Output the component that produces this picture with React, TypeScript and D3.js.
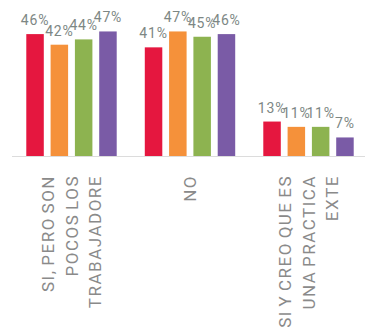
import React from "react";
import * as d3 from "d3";

const categoryLines: string[][] = [
  ["SI, PERO SON", "POCOS LOS", "TRABAJADORE"],
  ["NO"],
  ["SI Y CREO QUE ES", "UNA PRACTICA", "EXTE"],
];
const categoryKeys = ["c1", "c2", "c3"];
const seriesNames = ["s1", "s2", "s3", "s4"];
const seriesColors = ["#e5173f", "#f5913a", "#8db350", "#7a5ba6"];
const s1Values = [46, 41, 13];
const s2Values = [42, 47, 11];
const s3Values = [44, 45, 11];
const s4Values = [47, 46, 7];
const allSeries = [s1Values, s2Values, s3Values, s4Values];

const W = 365;
const H = 336;
const baseY = 156;

export default function App() {
  const x0 = d3
    .scaleBand<string>()
    .domain(categoryKeys)
    .range([12.25, 367.75])
    .paddingInner(0.237)
    .paddingOuter(0.1185);
  const x1 = d3
    .scaleBand<string>()
    .domain(seriesNames)
    .range([0, x0.bandwidth()])
    .paddingInner(0.28)
    .paddingOuter(0);
  const y = d3.scaleLinear().domain([0, 50]).range([baseY, baseY - 132.5]);

  const lineGap = 23.5;
  const labelFont = 17;
  const capHalf = labelFont * 0.711 / 2;

  return (
    <svg
      width={W}
      height={H}
      style={{ position: "absolute", left: 0, top: 0, background: "#fff" }}
    >
      <line x1={12} x2={W} y1={baseY + 0.5} y2={baseY + 0.5} stroke="#dcdcdc" strokeWidth={1} />
      {categoryKeys.map((c, ci) => (
        <g key={c} transform={`translate(${x0(c)},0)`}>
          {seriesNames.map((s, si) => {
            const v = allSeries[si][ci];
            const bx = x1(s)!;
            return (
              <g key={s}>
                <rect
                  x={bx}
                  y={y(v)}
                  width={x1.bandwidth()}
                  height={baseY - y(v)}
                  fill={seriesColors[si]}
                />
                <text
                  x={bx + x1.bandwidth() / 2}
                  y={y(v) - 9}
                  textAnchor="middle"
                  fontFamily="Roboto, sans-serif"
                  fontSize={14}
                  letterSpacing={0.8}
                  fill="#7d8784"
                >
                  {v}%
                </text>
              </g>
            );
          })}
        </g>
      ))}
      {categoryKeys.map((c, ci) => {
        const center = x0(c)! + x0.bandwidth() / 2;
        const lines = categoryLines[ci];
        const n = lines.length;
        return (
          <g key={"l" + c}>
            {lines.map((ln, li) => {
              const cx = center + (li - (n - 1) / 2) * lineGap + capHalf;
              return (
                <text
                  key={li}
                  transform={`translate(${cx},175) rotate(-90)`}
                  textAnchor="end"
                  fontFamily="Roboto, sans-serif"
                  fontSize={labelFont}
                  letterSpacing={1.5}
                  wordSpacing={-2}
                  fill="#8a8a8a"
                >
                  {ln}
                </text>
              );
            })}
          </g>
        );
      })}
    </svg>
  );
}
